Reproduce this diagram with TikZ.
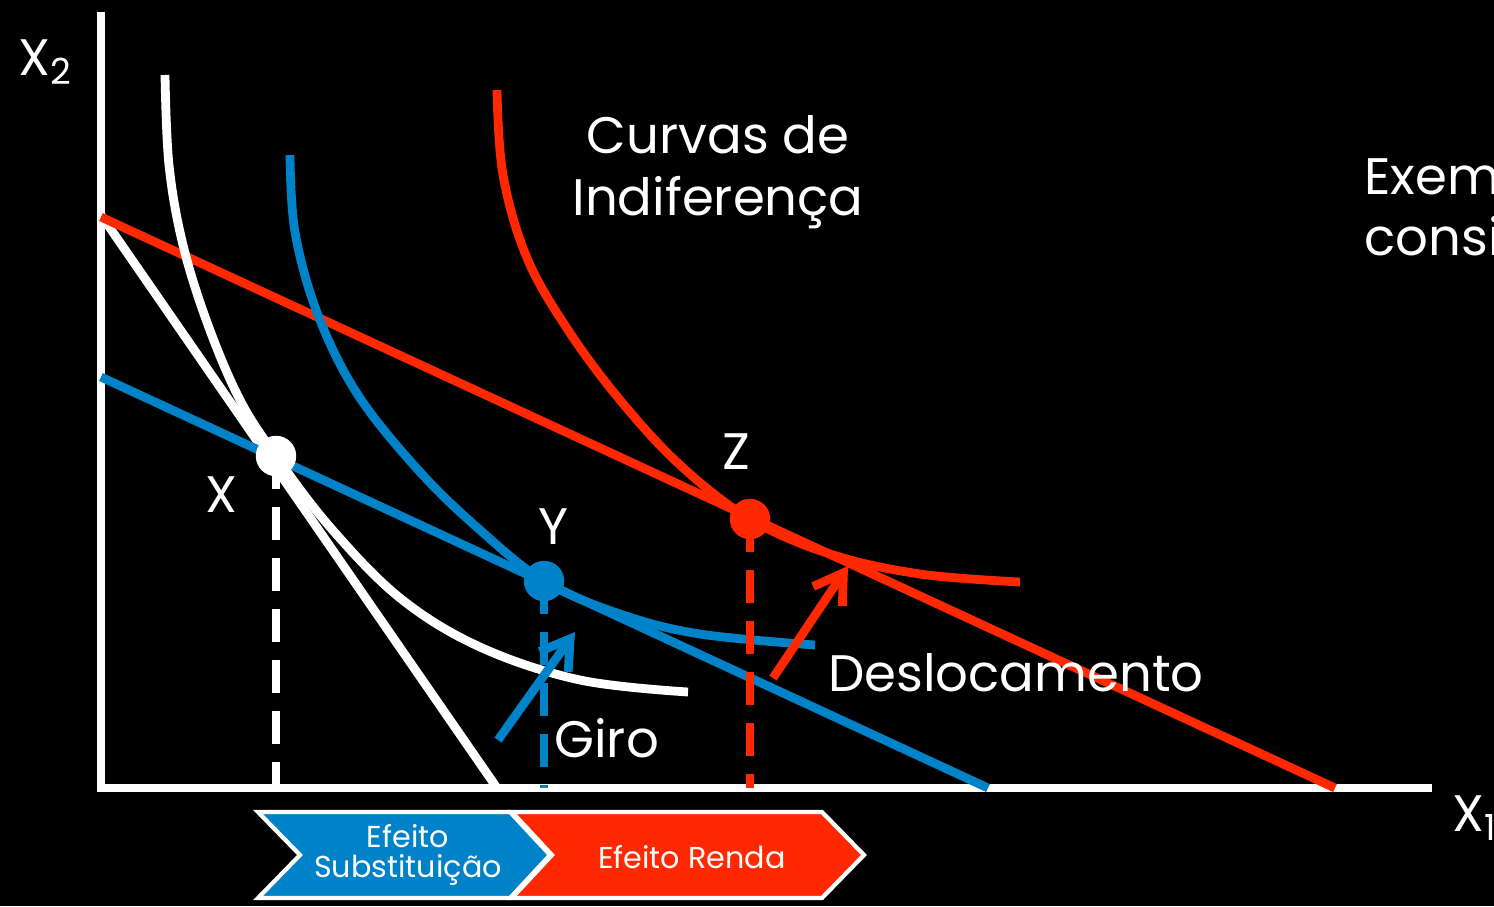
\documentclass[tikz,border=0pt]{standalone}
\usepackage{fontspec}
\setmainfont{Poppins}
\usetikzlibrary{arrows.meta}

\begin{document}
\begin{tikzpicture}[x=0.01cm,y=-0.01cm,
    line width=2.5pt,
    lbl/.style={text=white,font=\fontsize{14.6}{17.5}\selectfont,inner sep=0pt},
    dot/.style={circle,fill=#1,minimum size=11.5pt,inner sep=0pt},
    drop/.style={#1,dash pattern=on 9.5pt off 5pt},
    hint/.style={#1,-{Straight Barb[length=8pt,width=10pt,line width=2.5pt]}},
    tag/.style={text=white,font=\fontsize{8.6}{9.6}\selectfont,align=center,inner sep=0pt}]
    \definecolor{azul}{RGB}{0,130,200}
    \definecolor{verm}{RGB}{255,40,0}
    \fill[black] (0,0) rectangle (1494,906);
    \useasboundingbox (0,0) rectangle (1494,906);
    % eixos
    \draw[white] (101,12)--(101,788)--(1432,788);
    \node[lbl] at (46,62) {X\textsubscript{2}};
    \node[lbl,anchor=west] at (1448,818) {X\textsubscript{1}};
    % retas orcamentarias
    \draw[white] (101,215)--(497,788);
    \draw[azul] (101,377)--(988,788);
    \draw[verm] (101,217)--(1335,788);
    % curvas de indiferenca
    \draw[white] plot[smooth,tension=0.6] coordinates {(165,75) (169,165) (183,245) (208,325) (240,400) (276,456) (330,527) (400,598) (480,647) (580,680) (688,692)};
    \draw[azul] plot[smooth,tension=0.6] coordinates {(290,155) (295,232) (318,315) (358,395) (420,472) (480,530) (544,581) (620,614) (700,634) (815,645)};
    \draw[verm] plot[smooth,tension=0.6] coordinates {(497,90) (503,175) (527,258) (568,330) (620,400) (680,465) (750,519) (830,554) (920,574) (1020,582)};
    % cestas
    \node[dot=white] (X) at (276,456) {};
    \node[dot=azul] (Y) at (544,581) {};
    \node[dot=verm] (Z) at (750,519) {};
    \node[lbl] at (221,495) {X};
    \node[lbl] at (553,527) {Y};
    \node[lbl] at (736,452) {Z};
    \coordinate (xX) at (276,788);
    \coordinate (xY) at (544,788);
    \coordinate (xZ) at (750,788);
    \draw[drop=white] (X.center)--(xX);
    \draw[drop=azul] (Y.center)--(xY);
    \draw[drop=verm] (Z.center)--(xZ);
    % setas
    \coordinate (g0) at (498,740);
    \coordinate (g1) at (575,632);
    \coordinate (d0) at (773,678);
    \coordinate (d1) at (848,566);
    \draw[hint=azul] (g0)--(g1);
    \draw[hint=verm] (d0)--(d1);
    \node[lbl,anchor=west] at (550,738) {Giro};
    \node[lbl,anchor=west] at (824,673) {Deslocamento};
    \node[lbl,align=center] at (718,172) {Curvas de\\Indiferença};
    \node[lbl,align=left,anchor=north west] at (1360,152) {Exemplo\\considerando};
    % efeitos
    \draw[white,line width=1.2pt,fill=azul] (258,812)--(510,812)--(550,855)--(510,898)--(258,898)--(300,855)--cycle;
    \draw[white,line width=1.2pt,fill=verm] (512,812)--(822,812)--(864,855)--(822,898)--(512,898)--(552,855)--cycle;
    \node[tag] at (408,855) {Efeito\\[-1pt]Substituição};
    \node[tag] at (692,857) {Efeito Renda};
\end{tikzpicture}
\end{document}
